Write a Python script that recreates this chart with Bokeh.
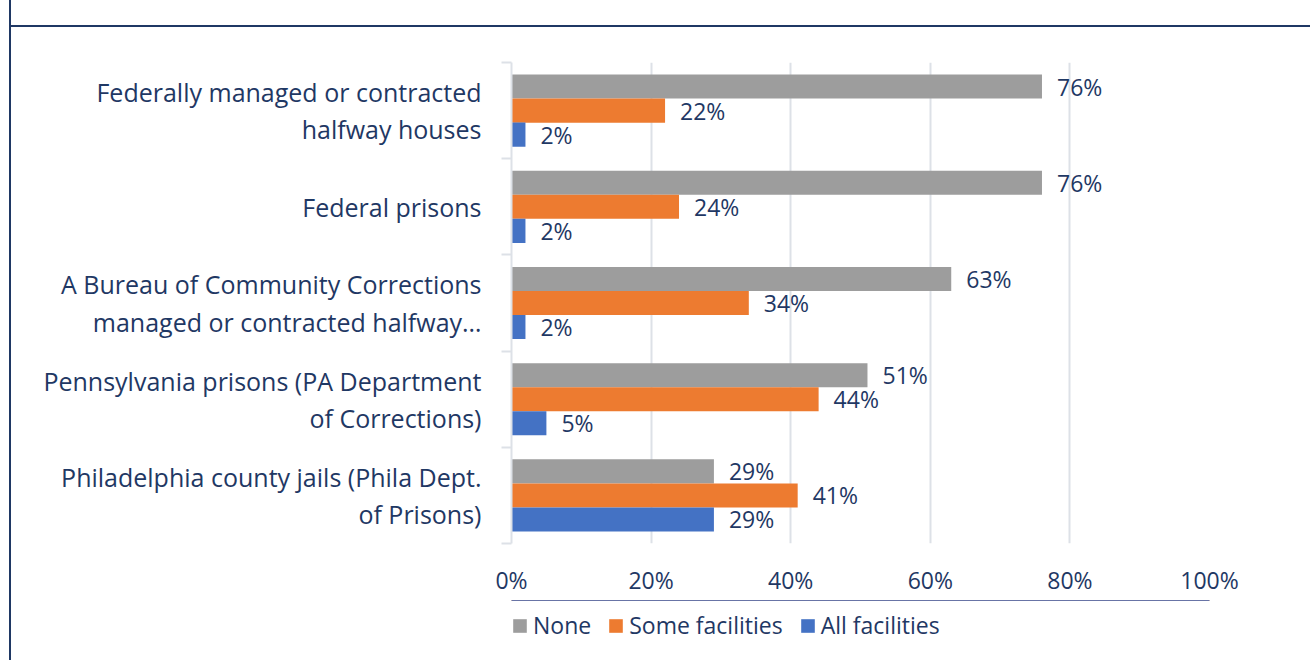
from bokeh.plotting import figure
from bokeh.layouts import column
from bokeh.models import (ColumnDataSource, Range1d, FixedTicker, PrintfTickFormatter,
                          Legend, LegendItem)
from bokeh.core.properties import value
from bokeh.embed import file_html
from bokeh.resources import INLINE

# ---------------- data ----------------
categories = [
    "Federally managed or contracted\nhalfway houses",
    "Federal prisons",
    "A Bureau of Community Corrections\nmanaged or contracted halfway…",
    "Pennsylvania prisons (PA Department\nof Corrections)",
    "Philadelphia county jails (Phila Dept.\nof Prisons)",
]
series_names = ["None", "Some facilities", "All facilities"]
none_vals = [76, 76, 63, 51, 29]
some_vals = [22, 24, 34, 44, 41]
all_vals = [2, 2, 2, 5, 29]
x_ticks = [0, 20, 40, 60, 80, 100]

# ---------------- style ----------------
FONT = "Open Sans"
NAVY = "#1f3864"
GRID = "#dde1e7"
COLORS = ["#9d9d9d", "#ed7b30", "#4472c4"]
OFFSETS = [0.25, 0.0, -0.25]

W, H = 1310, 600
n = len(categories)

fig = figure(width=W, height=H, output_backend="svg", toolbar_location=None,
             x_range=Range1d(0, 100), y_range=Range1d(-0.5, n - 0.5),
             min_border_left=511, min_border_right=W - 1209, min_border_top=62,
             min_border_bottom=H - 543)
fig.outline_line_color = None
fig.background_fill_color = "white"
fig.border_fill_alpha = 0
# outer box lines (left edge and top rule) drawn as CSS background of the figure host
fig.styles = {
    "background": ("linear-gradient(#1f3864,#1f3864) 9px 25px / 100% 2px no-repeat, "
                   "linear-gradient(#1f3864,#1f3864) 9px 0px / 2px 100% no-repeat, white"),
}

sources = []
for vals, color, off in zip([none_vals, some_vals, all_vals], COLORS, OFFSETS):
    src = ColumnDataSource(dict(
        y=[(n - 1 - i) + off for i in range(n)],
        right=vals,
        label=[f"{v}%" for v in vals],
    ))
    sources.append(src)
    fig.hbar(y="y", left=0, right="right", height=0.25, fill_color=color,
             line_color=None, source=src)
    fig.text(x="right", y="y", text="label", source=src, x_offset=15,
             text_align="left", text_baseline="middle", text_font=value(FONT),
             text_font_size="23px", text_color=NAVY)

# x axis
fig.xaxis.ticker = FixedTicker(ticks=x_ticks)
fig.xaxis.formatter = PrintfTickFormatter(format="%d%%")
fig.xaxis.axis_line_color = None
fig.xaxis.major_tick_line_color = None
fig.xaxis.minor_tick_line_color = None
fig.xaxis.major_tick_out = 0
fig.xaxis.major_label_standoff = 20
fig.xaxis.major_label_text_font = FONT
fig.xaxis.major_label_text_font_size = "23px"
fig.xaxis.major_label_text_color = NAVY

fig.xgrid.ticker = FixedTicker(ticks=x_ticks)
fig.xgrid.grid_line_color = GRID
fig.xgrid.grid_line_width = 2
fig.ygrid.visible = False

# y axis (categories)
fig.yaxis.ticker = FixedTicker(ticks=list(range(n)),
                               minor_ticks=[k - 0.5 for k in range(n + 1)])
fig.yaxis.major_label_overrides = {n - 1 - i: c for i, c in enumerate(categories)}
fig.yaxis.axis_line_color = GRID
fig.yaxis.axis_line_width = 2
fig.yaxis.major_tick_line_color = None
fig.yaxis.major_tick_out = 10
fig.yaxis.major_tick_in = 0
fig.yaxis.minor_tick_line_color = GRID
fig.yaxis.minor_tick_line_width = 2
fig.yaxis.minor_tick_out = 10
fig.yaxis.minor_tick_in = 0
fig.yaxis.major_label_standoff = 20
fig.yaxis.major_label_text_font = FONT
fig.yaxis.major_label_text_font_size = "25px"
fig.yaxis.major_label_text_color = NAVY
fig.yaxis.major_label_text_line_height = 1.1

# ---------------- legend strip below the chart ----------------
LH = 60
leg = figure(width=W, height=LH, output_backend="svg", toolbar_location=None,
             x_range=Range1d(0, 1), y_range=Range1d(-100, -99),
             x_axis_location=None, y_axis_location=None,
             min_border_left=0, min_border_right=0, min_border_top=0, min_border_bottom=0)
leg.outline_line_color = None
leg.grid.visible = False
leg.background_fill_alpha = 0
leg.border_fill_alpha = 0
leg.styles = {
    "background": "linear-gradient(#1f3864,#1f3864) 9px 0px / 2px 100% no-repeat, white",
}
# same series drawn outside this strip's view, only to provide legend swatches
swatches = [leg.hbar(y="y", left=0, right="right", height=0.25, fill_color=c,
                     line_color=None, source=s)
            for c, s in zip(COLORS, sources)]
legend = Legend(
    items=[LegendItem(label=nm, renderers=[r]) for nm, r in zip(series_names, swatches)],
    orientation="horizontal", location=(0, 19),
    glyph_width=17, glyph_height=17, label_standoff=5, spacing=16,
    label_height=17, padding=0, margin=0, border_line_color=None,
    background_fill_alpha=0, label_text_font=FONT, label_text_font_size="23px",
    label_text_color=NAVY,
)
leg.add_layout(legend, "center")

page = column(fig, leg, spacing=0)

open("out.html", "w").write(file_html(page, INLINE))
